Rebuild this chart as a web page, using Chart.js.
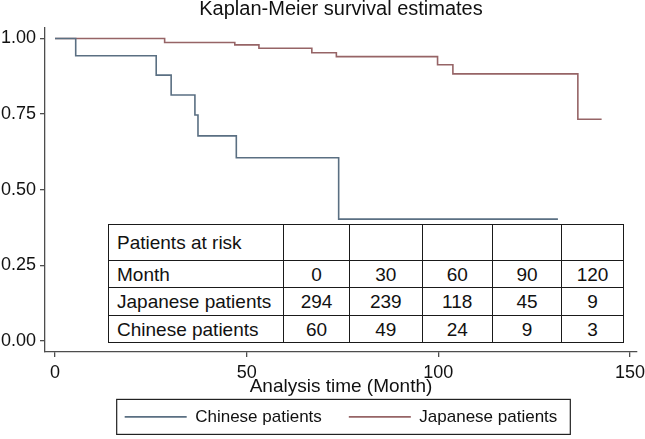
<!DOCTYPE html>
<html>
<head>
<meta charset="utf-8">
<script src="https://cdn.jsdelivr.net/npm/chart.js@4.4.1/dist/chart.umd.min.js"></script>
<style>
  html, body { margin: 0; padding: 0; background: #fff; }
  #wrap { position: relative; width: 645px; height: 439px; }
  #risk {
    position: absolute; left: 108px; top: 224px; width: 515px;
    border-collapse: collapse; table-layout: fixed; background: #fff;
    font: 19px "Liberation Sans", Arial, sans-serif; color: #111;
  }
  #risk td {
    border: 1.5px solid #1a1a1a; padding: 0; text-align: center;
    line-height: 1; white-space: nowrap; overflow: hidden;
  }
  #risk td:first-child { text-align: left; padding-left: 8px; }
</style>
</head>
<body>
<div id="wrap">
  <canvas id="km" width="645" height="439"></canvas>
  <table id="risk"></table>
</div>
<script>
// survival curves (months, survival probability)
const chineseMonths = [0, 5.4, 26.4, 30.3, 36.5, 37.3, 47.3, 74.0, 131.2];
const chineseSurvival = [1.0, 0.943, 0.879, 0.813, 0.747, 0.678, 0.606, 0.403, 0.403];
const japaneseMonths = [0, 28.6, 46.9, 53.2, 67.0, 73.4, 99.8, 103.8, 136.4, 142.6];
const japaneseSurvival = [1.0, 0.987, 0.979, 0.968, 0.953, 0.940, 0.913, 0.883, 0.733, 0.733];

const xTicks = [0, 50, 100, 150];
const yTicks = [0, 0.25, 0.5, 0.75, 1];

// numbers at risk table
const riskMonths = [0, 30, 60, 90, 120];
const japaneseAtRisk = [294, 239, 118, 45, 9];
const chineseAtRisk = [60, 49, 24, 9, 3];

const font = "'Liberation Sans', Arial, sans-serif";
const axisColor = "#4d4d4d";
const chineseColor = "#5a6f82";
const japaneseColor = "#966466";

// table
const colWidths = [175, 66, 72.5, 70.5, 69, 62];
const rowHeights = [36, 27, 28, 27];
const rows = [
  ["Patients at risk", "", "", "", "", ""],
  ["Month", ...riskMonths],
  ["Japanese patients", ...japaneseAtRisk],
  ["Chinese patients", ...chineseAtRisk]
];
const table = document.getElementById("risk");
const cg = document.createElement("colgroup");
colWidths.forEach(w => {
  const c = document.createElement("col");
  c.style.width = w + "px";
  cg.appendChild(c);
});
table.appendChild(cg);
rows.forEach((r, i) => {
  const tr = document.createElement("tr");
  tr.style.height = rowHeights[i] + "px";
  r.forEach(v => {
    const td = document.createElement("td");
    td.textContent = v;
    tr.appendChild(td);
  });
  table.appendChild(tr);
});

function toPoints(xs, ys) {
  return xs.map((x, i) => ({ x, y: ys[i] }));
}

// legend sits centred under the plot, with a frame round it (Stata style)
const legendFrame = {
  id: "legendFrame",
  afterLayout(chart) {
    const ca = chart.chartArea;
    const mid = (ca.left + ca.right) / 2;
    const lg = chart.legend;
    const dx = mid - (lg.left + lg.right) / 2;
    lg.left += dx; lg.right += dx;
    lg.top -= 17; // bottom stays put so the labels are not clipped
    const tb = chart.titleBlock;
    const tdx = mid - (tb.left + tb.right) / 2;
    tb.left += tdx; tb.right += tdx;
  },
  afterDraw(chart) {
    const hb = chart.legend.legendHitBoxes;
    if (!hb || !hb.length) return;
    const last = hb[hb.length - 1];
    const l = hb[0].left - 8, r = last.left + last.width + 13;
    const t = hb[0].top - 9, b = hb[0].top + hb[0].height + 9;
    const ctx = chart.ctx;
    ctx.save();
    ctx.strokeStyle = "#222";
    ctx.lineWidth = 1.2;
    ctx.strokeRect(l, t, r - l, b - t);
    ctx.restore();
  }
};

new Chart(document.getElementById("km"), {
  type: "line",
  data: {
    datasets: [
      {
        label: "Chinese patients",
        data: toPoints(chineseMonths, chineseSurvival),
        borderColor: chineseColor,
        borderWidth: 1.6,
        stepped: "before",
        fill: false,
        pointRadius: 0,
        pointStyle: "line",
        pointBorderColor: chineseColor,
        pointBorderWidth: 1.6
      },
      {
        label: "Japanese patients",
        data: toPoints(japaneseMonths, japaneseSurvival),
        borderColor: japaneseColor,
        borderWidth: 1.6,
        stepped: "before",
        fill: false,
        pointRadius: 0,
        pointStyle: "line",
        pointBorderColor: japaneseColor,
        pointBorderWidth: 1.6
      }
    ]
  },
  options: {
    responsive: false,
    animation: false,
    devicePixelRatio: 1,
    layout: { padding: { left: 0, right: 8, top: 0, bottom: 0.6 } },
    plugins: {
      title: {
        display: true,
        text: "Kaplan-Meier survival estimates",
        color: "#111",
        font: { family: font, size: 20, weight: "normal", lineHeight: 1 },
        padding: { top: -1, bottom: 9 }
      },
      legend: {
        position: "bottom",
        maxHeight: 40,
        labels: {
          usePointStyle: true,
          pointStyle: "line",
          pointStyleWidth: 62,
          color: "#111",
          font: { family: font, size: 17 },
          padding: 27
        }
      },
      tooltip: { enabled: false }
    },
    scales: {
      x: {
        type: "linear",
        min: -2.61,
        max: 151.83,
        afterBuildTicks: s => { s.ticks = xTicks.map(v => ({ value: v })); },
        afterFit: s => { s.height = 46.4; s.paddingLeft = 0; s.paddingRight = 0; },
        border: { color: axisColor, width: 1.3 },
        grid: { drawOnChartArea: false, drawTicks: true, tickLength: 5, color: axisColor, lineWidth: 1.3 },
        ticks: { color: "#111", font: { family: font, size: 18 }, padding: 5.7, maxRotation: 0, autoSkip: false },
        title: { display: true, text: "Analysis time (Month)", color: "#111", font: { family: font, size: 19 }, padding: 0 }
      },
      y: {
        min: -0.0364,
        max: 1.0347,
        afterBuildTicks: s => { s.ticks = yTicks.map(v => ({ value: v })); },
        afterFit: s => { s.width = 45; s.paddingTop = 0; s.paddingBottom = 0; },
        border: { color: axisColor, width: 1.3 },
        grid: { drawOnChartArea: false, drawTicks: true, tickLength: 5, color: axisColor, lineWidth: 1.3 },
        ticks: { color: "#111", font: { family: font, size: 18 }, padding: 4, callback: v => v.toFixed(2) }
      }
    }
  },
  plugins: [legendFrame]
});
</script>
</body>
</html>
